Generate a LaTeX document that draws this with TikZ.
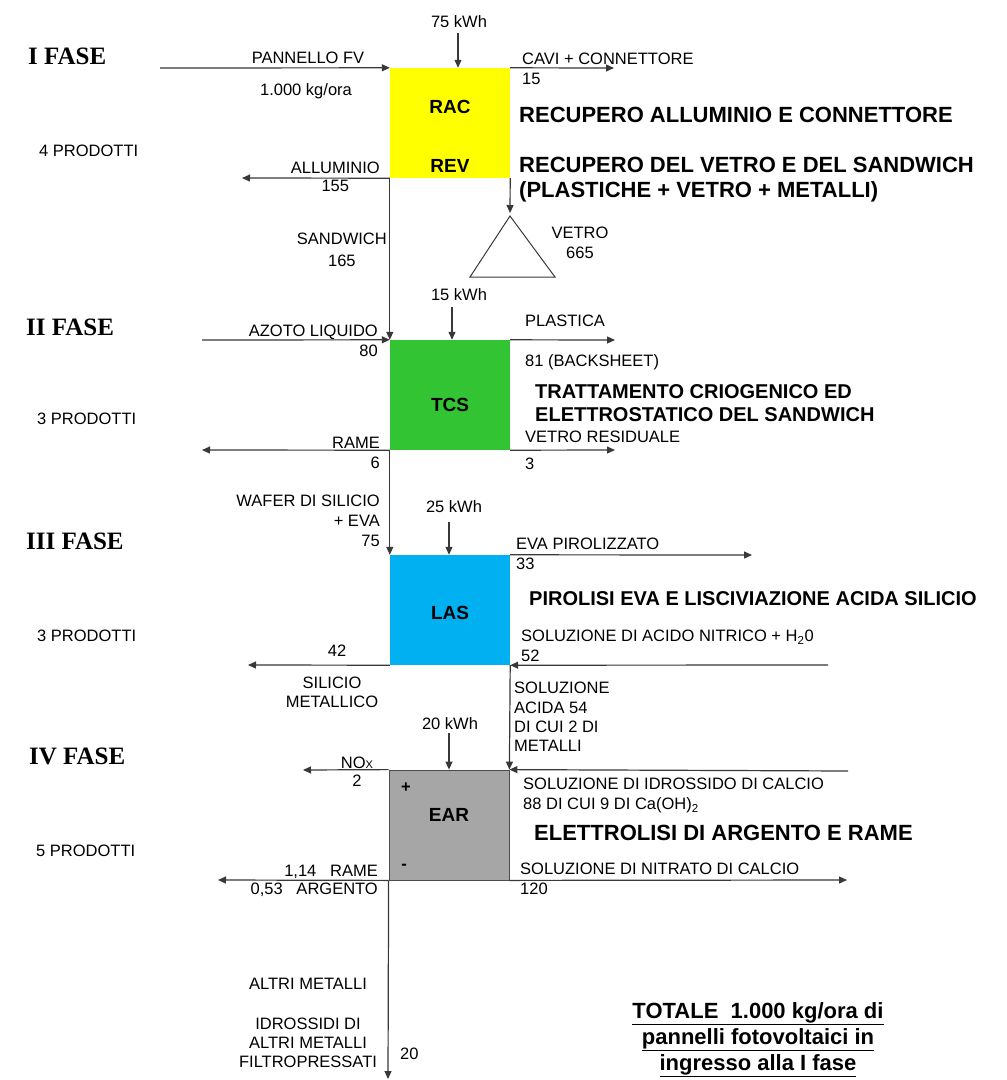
\documentclass[tikz,border=0pt]{standalone}
\usepackage{fontspec}
\setmainfont{Liberation Sans}
\newfontfamily\fasefont{Liberation Serif}
\usetikzlibrary{arrows.meta,positioning}

\definecolor{giallo}{RGB}{255,255,0}
\definecolor{verde}{RGB}{50,196,50}
\definecolor{azzurro}{RGB}{0,176,240}
\definecolor{grigio}{RGB}{166,166,166}

\tikzset{
	flow/.style={draw=black!78, line width=1.2pt, -{Triangle[length=8pt,width=7pt]}},
	wire/.style={draw=black!78, line width=1pt},
	lbl/.style={inner sep=0pt, font=\fontsize{16.5}{20}\selectfont},
	fase/.style={inner sep=0pt, anchor=north west, font=\fasefont\bfseries\fontsize{25}{25}\selectfont},
	titolo/.style={inner sep=0pt, anchor=north west, align=left, font=\bfseries\fontsize{22}{25}\selectfont},
	titolob/.style={inner sep=0pt, anchor=north west, align=left, font=\bfseries\fontsize{20}{23}\selectfont},
	fasebox/.style={inner sep=0pt, minimum width=120pt, minimum height=110pt},
	boxlbl/.style={inner sep=0pt, font=\bfseries\fontsize{19}{19}\selectfont},
}

\begin{document}
\begin{tikzpicture}[x=1pt,y=-1pt]
	\useasboundingbox (0,0) rectangle (1007,1080);
	%boxes
	\node[fasebox, fill=giallo] (rac) at (450,123) {};
	\node[fasebox, fill=verde] (tcs) at (450,395) {};
	\node[fasebox, fill=azzurro] (las) at (450,610) {};
	\node[fasebox, fill=grigio, draw=black!70, line width=0.8pt] (ear) at (449,825) {};
	\node[boxlbl] (raclbl) at (450,107) {RAC};
	\node[boxlbl] (revlbl) at (450,166) {REV};
	\node[boxlbl] (tcslbl) at (450,405) {TCS};
	\node[boxlbl] (laslbl) at (450,613) {LAS};
	\node[boxlbl] (earlbl) at (449,815) {EAR};
	\node[lbl, font=\bfseries\fontsize{16.5}{20}\selectfont] (piu) at (406,788) {+};
	\node[lbl, font=\bfseries\fontsize{16.5}{20}\selectfont] (meno) at (404,867) {-};

	%fasi
	\node[fase] (f1) at (28,48) {I FASE};
	\node[fase] (f2) at (26,319) {II FASE};
	\node[fase] (f3) at (26,533) {III FASE};
	\node[fase] (f4) at (29,748) {IV FASE};
	\node[lbl, anchor=north west] (p1) at (39,145) {4 PRODOTTI};
	\node[lbl, anchor=north west] (p2) at (37,413) {3 PRODOTTI};
	\node[lbl, anchor=north west] (p3) at (37,630) {3 PRODOTTI};
	\node[lbl, anchor=north west] (p4) at (36,845) {5 PRODOTTI};

	%titoli
	\node[titolo] (t1) at (519,107) {RECUPERO ALLUMINIO E CONNETTORE};
	\node[titolo] (t2) at (519,157) {RECUPERO DEL VETRO E DEL SANDWICH\\(PLASTICHE + VETRO + METALLI)};
	\node[titolob] (t3) at (535,384) {TRATTAMENTO CRIOGENICO ED\\ELETTROSTATICO DEL SANDWICH};
	\node[titolob] (t4) at (529,591) {PIROLISI EVA E LISCIVIAZIONE ACIDA SILICIO};
	\node[titolo] (t5) at (534,825) {ELETTROLISI DI ARGENTO E RAME};

	%I fase
	\node[lbl, anchor=north] (e1) at (459,15) {75 kWh};
	\coordinate (e1a) at (458,33);
	\draw[flow] (e1a) -- (e1a |- rac.north);
	\coordinate (pvin) at (160,68);
	\draw[flow] (pvin) -- (rac.north west);
	\node[lbl, anchor=north] (pv) at (308,52) {PANNELLO FV};
	\node[lbl, anchor=north] (pvkg) at (306,83) {1.000 kg/ora};
	\coordinate (cavi) at (614,68);
	\draw[flow] (rac.north east) -- (cavi);
	\node[lbl, anchor=north west, align=left] (cavilbl) at (522,53) {CAVI + CONNETTORE\\15};
	\coordinate (allu) at (242,178);
	\draw[flow] (rac.south west) -- (allu);
	\node[lbl, anchor=north east, align=center, font=\fontsize{16.5}{18}\selectfont] (allulbl) at (380,162) {ALLUMINIO\\155};
	\coordinate (vetrotop) at (510,216);
	\draw[wire] (vetrotop) -- (470,277) -- (555,277) -- cycle;
	\draw[flow, shorten >=3pt] (rac.south east) -- (vetrotop);
	\node[lbl, anchor=north, align=center] (vetrolbl) at (580,227) {VETRO\\665};
	\draw[flow] (rac.south west) -- (tcs.north west);
	\node[lbl, anchor=north east, align=center, font=\fontsize{16.5}{22}\selectfont] (sandlbl) at (387,233) {SANDWICH\\165};

	%II fase
	\node[lbl, anchor=north] (e2) at (459,288) {15 kWh};
	\coordinate (e2a) at (452,307);
	\draw[flow] (e2a) -- (e2a |- tcs.north);
	\coordinate (azoto) at (202,340);
	\draw[flow] (azoto) -- (tcs.north west);
	\node[lbl, anchor=north east, align=right] (azotolbl) at (378,325) {AZOTO LIQUIDO\\80};
	\coordinate (plast) at (615,340);
	\draw[flow] (tcs.north east) -- (plast);
	\node[lbl, anchor=north west] (plastlbl) at (525,315) {PLASTICA};
	\node[lbl, anchor=north west] (backlbl) at (525,354) {81 (BACKSHEET)};
	\coordinate (vres) at (615,450);
	\draw[flow] (tcs.south east) -- (vres);
	\node[lbl, anchor=north west] (vreslbl) at (525,431) {VETRO RESIDUALE};
	\node[lbl, anchor=north west] (vresq) at (525,458) {3};
	\coordinate (rame) at (202,450);
	\draw[flow] (tcs.south west) -- (rame);
	\node[lbl, anchor=north east, align=right] (ramelbl) at (380,437) {RAME\\6};
	\draw[flow] (tcs.south west) -- (las.north west);
	\node[lbl, anchor=north east, align=right] (waferlbl) at (380,495) {WAFER DI SILICIO\\+ EVA\\75};

	%III fase
	\node[lbl, anchor=north] (e3) at (454,500) {25 kWh};
	\coordinate (e3a) at (449,522);
	\draw[flow] (e3a) -- (e3a |- las.north);
	\coordinate (eva) at (752,555);
	\draw[flow] (las.north east) -- (eva);
	\node[lbl, anchor=north west, align=left] (evalbl) at (516,538) {EVA PIROLIZZATO\\33};
	\coordinate (sil) at (248,665);
	\draw[flow] (las.south west) -- (sil);
	\node[lbl, anchor=north] (silq) at (337,645) {42};
	\node[lbl, anchor=north, align=center, font=\fontsize{16.5}{19}\selectfont] (sillbl) at (332,677) {SILICIO\\METALLICO};
	\coordinate (hno) at (828,665);
	\draw[flow] (hno) -- (las.south east);
	\node[lbl, anchor=north west, align=left] (hnolbl) at (521,630) {SOLUZIONE DI ACIDO NITRICO + H\textsubscript{2}0\\52};
	\draw[flow] (las.south east) -- (ear.north east);
	\node[lbl, anchor=north west, align=left, font=\fontsize{16.5}{19.3}\selectfont] (acidalbl) at (514,682) {SOLUZIONE\\ACIDA 54\\DI CUI 2 DI\\METALLI};

	%IV fase
	\node[lbl, anchor=north] (e4) at (450,717) {20 kWh};
	\coordinate (e4a) at (449,733);
	\draw[flow] (e4a) -- (e4a |- ear.north);
	\coordinate (nox) at (303,770);
	\draw[flow] (ear.north west) -- (nox);
	\node[lbl, anchor=north, align=center, font=\fontsize{16.5}{18}\selectfont] (noxlbl) at (357,757) {NO{\fontsize{11}{11}\selectfont X}\\2};
	\coordinate (caoh) at (848,771);
	\draw[flow] (caoh) -- (ear.north east);
	\node[lbl, anchor=north west, align=left] (caohlbl) at (523,778) {SOLUZIONE DI IDROSSIDO DI CALCIO\\88 DI CUI 9 DI Ca(OH)\textsubscript{2}};
	\coordinate (nitr) at (847,880);
	\draw[flow] (ear.south east) -- (nitr);
	\node[lbl, anchor=north west, align=left] (nitrlbl) at (520,863) {SOLUZIONE DI NITRATO DI CALCIO\\120};
	\coordinate (arg) at (218,880);
	\draw[flow] (ear.south west) -- (arg);
	\node[lbl, anchor=north east, align=right, font=\fontsize{16.5}{18}\selectfont] (arglbl) at (378,865) {1,14\ \ \ RAME\\0,53\ \ \ ARGENTO};
	\coordinate (altri) at (388,1079);
	\draw[flow] (ear.south west) -- (altri);
	\node[lbl, anchor=north] (altrilbl) at (308,978) {ALTRI METALLI};
	\node[lbl, anchor=north, align=center, font=\fontsize{16.5}{19}\selectfont] (idrolbl) at (308,1018) {IDROSSIDI DI\\ALTRI METALLI\\FILTROPRESSATI};
	\node[lbl, anchor=north west] (altriq) at (400,1048) {20};

	%totale
	\node[inner sep=0pt, anchor=north, align=center, font=\bfseries\fontsize{22}{26}\selectfont] (totale) at (758,1002)
		{\underline{TOTALE\ \ 1.000 kg/ora di}\\\underline{pannelli fotovoltaici in}\\\underline{ingresso alla I fase}};
\end{tikzpicture}
\end{document}
